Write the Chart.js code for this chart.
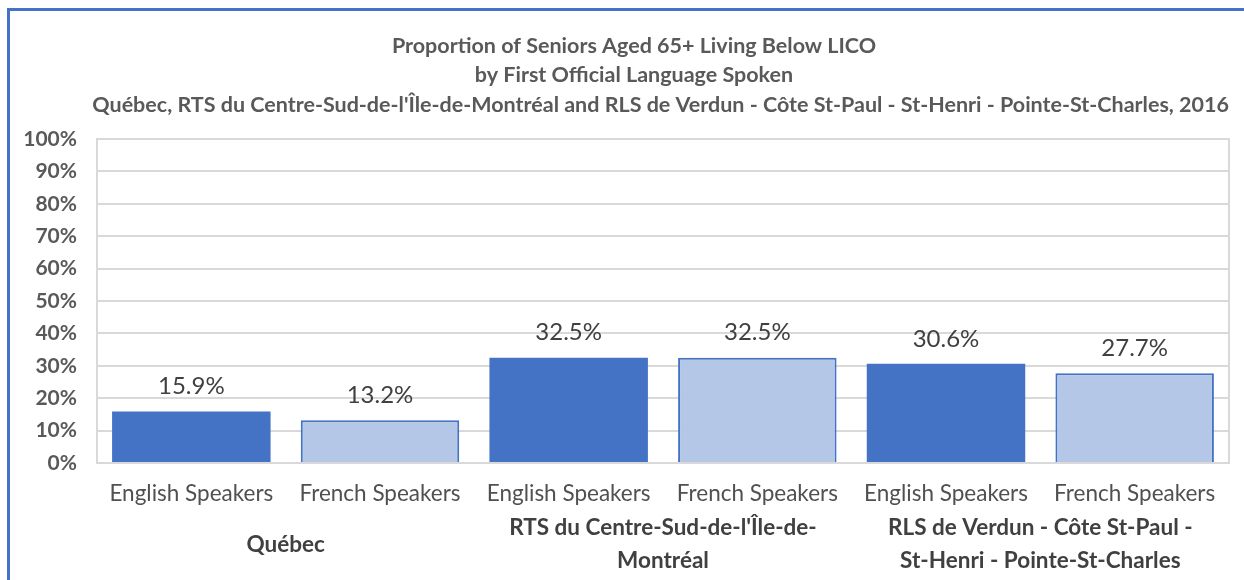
<!DOCTYPE html>
<html>
<head>
<meta charset="utf-8">
<script src="https://cdn.jsdelivr.net/npm/chart.js@4"></script>
<style>
  html, body { margin: 0; padding: 0; background: #fff; overflow: hidden; }
  #wrap { position: relative; width: 1244px; height: 580px; }
  #frame { position: absolute; left: 7px; top: 8px; width: 1400px; height: 800px;
           border-top: 3px solid #4472C4; border-left: 3px solid #4472C4; pointer-events: none; }
  canvas { position: absolute; left: 0; top: 0; }
</style>
</head>
<body>
<div id="wrap">
  <canvas id="c" width="1244" height="580"></canvas>
  <div id="frame"></div>
</div>
<script>
const titleLines = [
  "Proportion of Seniors Aged 65+ Living Below LICO",
  "by First Official Language Spoken",
  "Québec, RTS du Centre-Sud-de-l'Île-de-Montréal and RLS de Verdun - Côte St-Paul - St-Henri - Pointe-St-Charles, 2016"
];
const categories = ["English Speakers", "French Speakers", "English Speakers", "French Speakers", "English Speakers", "French Speakers"];
const groups = [
  ["Québec"],
  ["RTS du Centre-Sud-de-l'Île-de-", "Montréal"],
  ["RLS de Verdun - Côte St-Paul -", "St-Henri - Pointe-St-Charles"]
];
const values = [15.9, 13.2, 32.5, 32.5, 30.6, 27.7];
const yTicks = [0, 10, 20, 30, 40, 50, 60, 70, 80, 90, 100];

const FONT = "Lato, 'Open Sans', sans-serif";
const DARK = "#4472C4";
const LIGHT = "#B4C7E7";
const fills = values.map((v, i) => i % 2 === 0 ? DARK : LIGHT);
const borders = values.map((v, i) => i % 2 === 0 ? 0 : 2);

const titleDraw = {
  id: 'titleDraw',
  afterDraw(chart) {
    const ctx = chart.ctx;
    ctx.save();
    ctx.font = "bold 21.5px " + FONT;
    ctx.fillStyle = "#595959";
    ctx.textBaseline = "middle";
    ctx.textAlign = "center";
    const ys = [46, 75.5, 105];
    const minLeft = chart.chartArea.left;
    const maxRight = chart.chartArea.right;
    titleLines.forEach((t, i) => {
      const w = ctx.measureText(t).width;
      let cx = 634;
      if (cx - w / 2 < minLeft) cx = minLeft + w / 2;
      if (cx + w / 2 > maxRight) cx = maxRight - w / 2;
      ctx.fillText(t, cx, ys[i]);
    });
    ctx.restore();
  }
};

const valueLabels = {
  id: 'valueLabels',
  afterDatasetsDraw(chart) {
    const ctx = chart.ctx;
    const meta = chart.getDatasetMeta(0);
    ctx.save();
    ctx.font = "24px " + FONT;
    ctx.fillStyle = "#404040";
    ctx.textAlign = "center";
    ctx.textBaseline = "middle";
    meta.data.forEach((bar, i) => {
      ctx.fillText(values[i].toFixed(1) + "%", bar.x, bar.y - 25);
    });
    ctx.restore();
  }
};

new Chart(document.getElementById('c'), {
  type: 'bar',
  data: {
    labels: categories,
    datasets: [{
      data: values,
      backgroundColor: fills,
      borderColor: DARK,
      borderWidth: borders,
      categoryPercentage: 1,
      barPercentage: 0.84
    }]
  },
  options: {
    responsive: false,
    animation: false,
    devicePixelRatio: 1,
    layout: { padding: { left: 0, right: 0, top: 139, bottom: 0 } },
    plugins: {
      legend: { display: false },
      tooltip: { enabled: false },
      title: { display: false }
    },
    scales: {
      x: {
        position: 'bottom',
        grid: { display: false, drawTicks: false },
        border: { display: true, color: "#D9D9D9", width: 2 },
        ticks: { color: "#505050", font: { family: FONT, size: 22.5 }, padding: 17, maxRotation: 0, autoSkip: false },
        afterFit: s => { s.height = 48.5; }
      },
      x2: {
        type: 'category',
        position: 'bottom',
        labels: groups,
        offset: true,
        grid: { display: false, drawTicks: false },
        border: { display: false },
        ticks: { color: "#404040", font: { family: FONT, size: 22.5, weight: 'bold', lineHeight: 1.47 }, padding: 16.5, maxRotation: 0, autoSkip: false, crossAlign: 'center' },
        afterFit: s => { s.height = 68.5; }
      },
      y: {
        min: 0, max: 100,
        afterBuildTicks: s => { s.ticks = yTicks.map(v => ({ value: v })); },
        grid: { color: "#D9D9D9", lineWidth: 2, drawTicks: false },
        border: { display: true, color: "#D9D9D9", width: 2 },
        ticks: { color: "#595959", font: { family: FONT, size: 21, weight: 'bold' }, padding: 20, callback: v => v + "%" },
        afterFit: s => { s.width = 97; }
      },
      yR: {
        position: 'right',
        min: 0, max: 100,
        grid: { display: false, drawTicks: false },
        border: { display: true, color: "#D9D9D9", width: 2 },
        ticks: { display: false },
        afterFit: s => { s.width = 15; }
      }
    }
  },
  plugins: [valueLabels, titleDraw]
});
</script>
</body>
</html>
